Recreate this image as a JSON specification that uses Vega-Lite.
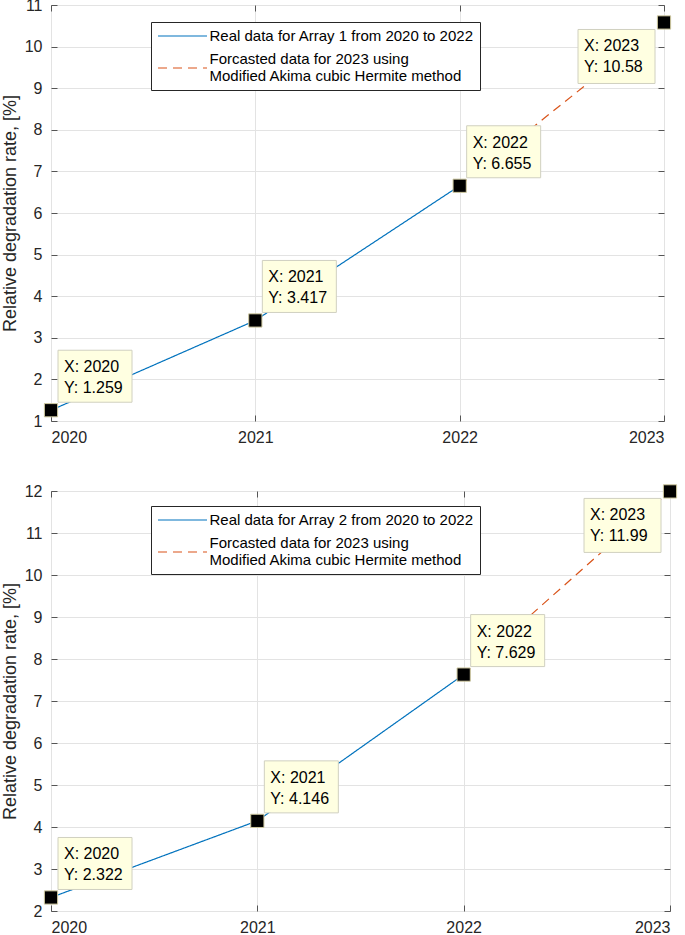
{
  "$schema": "https://vega.github.io/schema/vega-lite/v6.json",
  "background": "white",
  "padding": {"left": 0, "top": -4, "right": 0, "bottom": 0},
  "spacing": 36,
  "config": {
    "font": "Liberation Sans",
    "view": {"stroke": "#555555", "strokeWidth": 1},
    "axis": {
      "labelFont": "Liberation Sans", "labelFontSize": 16, "labelColor": "#262626",
      "titleFont": "Liberation Sans", "titleFontSize": 18, "titleFontWeight": "normal", "titleColor": "#262626",
      "gridColor": "#e3e3e3", "gridOpacity": 1, "gridWidth": 1,
      "domain": false, "tickColor": "#555555", "tickSize": -6, "tickWidth": 1
    },
    "legend": {
      "orient": "none", "legendX": 100, "legendY": 17, "direction": "vertical",
      "strokeColor": "#262626", "fillColor": "white", "padding": 6,
      "symbolType": "M-3.5,0H3.5", "symbolSize": 196, "symbolStrokeWidth": 1.2, "symbolOffset": 17.5,
      "labelFont": "Liberation Sans", "labelFontSize": 15, "labelColor": "#000000",
      "labelOffset": 19, "labelLimit": 500, "rowPadding": 8, "cornerRadius": 0,
      "labelBaseline": {"expr": "indexof(datum.label, ' using ') > 0 ? 'line-bottom' : 'middle'"}
    }
  },
  "datasets": {
    "l1": [
      {"year": 2020, "value": 1.259, "series": "Real data for Array 1 from 2020 to 2022"},
      {"year": 2021, "value": 3.417, "series": "Real data for Array 1 from 2020 to 2022"},
      {"year": 2022, "value": 6.655, "series": "Real data for Array 1 from 2020 to 2022"},
      {"year": 2022, "value": 6.655, "series": "Forcasted data for 2023 using Modified Akima cubic Hermite method"},
      {"year": 2023, "value": 10.58, "series": "Forcasted data for 2023 using Modified Akima cubic Hermite method"}
    ],
    "p1": [
      {"year": 2020, "value": 1.259, "tip": "X: 2020\nY: 1.259"},
      {"year": 2021, "value": 3.417, "tip": "X: 2021\nY: 3.417"},
      {"year": 2022, "value": 6.655, "tip": "X: 2022\nY: 6.655"},
      {"year": 2023, "value": 10.58, "tip": "X: 2023\nY: 10.58"}
    ],
    "l2": [
      {"year": 2020, "value": 2.322, "series": "Real data for Array 2 from 2020 to 2022"},
      {"year": 2021, "value": 4.146, "series": "Real data for Array 2 from 2020 to 2022"},
      {"year": 2022, "value": 7.629, "series": "Real data for Array 2 from 2020 to 2022"},
      {"year": 2022, "value": 7.629, "series": "Forcasted data for 2023 using Modified Akima cubic Hermite method"},
      {"year": 2023, "value": 11.99, "series": "Forcasted data for 2023 using Modified Akima cubic Hermite method"}
    ],
    "p2": [
      {"year": 2020, "value": 2.322, "tip": "X: 2020\nY: 2.322"},
      {"year": 2021, "value": 4.146, "tip": "X: 2021\nY: 4.146"},
      {"year": 2022, "value": 7.629, "tip": "X: 2022\nY: 7.629"},
      {"year": 2023, "value": 11.99, "tip": "X: 2023\nY: 11.99"}
    ]
  },
  "resolve": {"scale": {"color": "independent", "strokeDash": "independent"}, "legend": {"color": "independent", "strokeDash": "independent"}},
  "vconcat": [
    {
      "width": 613, "height": 416,
      "resolve": {"axis": {"x": "independent", "y": "independent"}},
      "layer": [
        {
          "data": {"name": "l1"},
          "mark": {"type": "line", "strokeWidth": 1.2},
          "encoding": {
            "x": {"field": "year", "type": "quantitative", "scale": {"domain": [2020, 2023], "nice": false, "zero": false},
                  "axis": {"values": [2020, 2021, 2022, 2023], "format": "d", "title": null, "labelPadding": 14, "grid": true}},
            "y": {"field": "value", "type": "quantitative", "scale": {"domain": [1, 11], "nice": false, "zero": false},
                  "axis": {"values": [1, 2, 3, 4, 5, 6, 7, 8, 9, 10, 11], "title": "Relative degradation rate, [%]", "labelPadding": 15, "titlePadding": 5, "grid": true}},
            "color": {"field": "series", "type": "nominal",
                      "scale": {"domain": ["Real data for Array 1 from 2020 to 2022", "Forcasted data for 2023 using Modified Akima cubic Hermite method"], "range": ["#0072BD", "#D95319"]},
                      "legend": {"title": null, "labelExpr": "indexof(datum.label, ' using ') > 0 ? [slice(datum.label, 0, indexof(datum.label, ' using ') + 6), slice(datum.label, indexof(datum.label, ' using ') + 7)] : datum.label"}},
            "strokeDash": {"field": "series", "type": "nominal",
                      "scale": {"domain": ["Real data for Array 1 from 2020 to 2022", "Forcasted data for 2023 using Modified Akima cubic Hermite method"], "range": [[1, 0], [9, 6]]},
                      "legend": {"title": null, "labelExpr": "indexof(datum.label, ' using ') > 0 ? [slice(datum.label, 0, indexof(datum.label, ' using ') + 6), slice(datum.label, indexof(datum.label, ' using ') + 7)] : datum.label"}}
          }
        },
        {
          "data": {"name": "p1"},
          "mark": {"type": "point", "shape": "square", "filled": true, "fill": "#000000", "stroke": "#cfc9a0", "strokeWidth": 1, "size": 175, "opacity": 1},
          "encoding": {
            "x": {"field": "year", "type": "quantitative", "axis": {"orient": "top", "values": [2020, 2021, 2022, 2023], "labels": false, "title": null, "grid": false}},
            "y": {"field": "value", "type": "quantitative", "axis": {"orient": "right", "values": [1, 2, 3, 4, 5, 6, 7, 8, 9, 10, 11], "labels": false, "title": null, "grid": false}}
          }
        },
        {
          "data": {"name": "p1"},
          "transform": [{"filter": "datum.year < 2023"}],
          "mark": {"type": "rect", "fill": "#ffffe1", "stroke": "#d0d0c0", "strokeWidth": 1, "xOffset": 7, "x2Offset": 81, "yOffset": -60, "y2Offset": -8},
          "encoding": {
            "x": {"field": "year", "type": "quantitative", "axis": null}, "x2": {"field": "year"},
            "y": {"field": "value", "type": "quantitative", "axis": null}, "y2": {"field": "value"}
          }
        },
        {
          "data": {"name": "p1"},
          "transform": [{"filter": "datum.year == 2023"}],
          "mark": {"type": "rect", "fill": "#ffffe1", "stroke": "#d0d0c0", "strokeWidth": 1, "xOffset": -86, "x2Offset": -9, "yOffset": 7, "y2Offset": 61},
          "encoding": {
            "x": {"field": "year", "type": "quantitative", "axis": null}, "x2": {"field": "year"},
            "y": {"field": "value", "type": "quantitative", "axis": null}, "y2": {"field": "value"}
          }
        },
        {
          "data": {"name": "p1"},
          "transform": [{"filter": "datum.year < 2023"}],
          "mark": {"type": "text", "align": "left", "baseline": "middle", "dx": 13, "dy": -43, "fontSize": 16, "lineBreak": "\n", "lineHeight": 21, "color": "#000000", "font": "Liberation Sans"},
          "encoding": {
            "x": {"field": "year", "type": "quantitative", "axis": null},
            "y": {"field": "value", "type": "quantitative", "axis": null},
            "text": {"field": "tip"}
          }
        },
        {
          "data": {"name": "p1"},
          "transform": [{"filter": "datum.year == 2023"}],
          "mark": {"type": "text", "align": "left", "baseline": "middle", "dx": -80, "dy": 24, "fontSize": 16, "lineBreak": "\n", "lineHeight": 21, "color": "#000000", "font": "Liberation Sans"},
          "encoding": {
            "x": {"field": "year", "type": "quantitative", "axis": null},
            "y": {"field": "value", "type": "quantitative", "axis": null},
            "text": {"field": "tip"}
          }
        }
      ]
    },
    {
      "width": 619, "height": 420,
      "resolve": {"axis": {"x": "independent", "y": "independent"}},
      "layer": [
        {
          "data": {"name": "l2"},
          "mark": {"type": "line", "strokeWidth": 1.2},
          "encoding": {
            "x": {"field": "year", "type": "quantitative", "scale": {"domain": [2020, 2023], "nice": false, "zero": false},
                  "axis": {"values": [2020, 2021, 2022, 2023], "format": "d", "title": null, "labelPadding": 14, "grid": true}},
            "y": {"field": "value", "type": "quantitative", "scale": {"domain": [2, 12], "nice": false, "zero": false},
                  "axis": {"values": [2, 3, 4, 5, 6, 7, 8, 9, 10, 11, 12], "title": "Relative degradation rate, [%]", "labelPadding": 15, "titlePadding": 5, "grid": true}},
            "color": {"field": "series", "type": "nominal",
                      "scale": {"domain": ["Real data for Array 2 from 2020 to 2022", "Forcasted data for 2023 using Modified Akima cubic Hermite method"], "range": ["#0072BD", "#D95319"]},
                      "legend": {"title": null, "legendY": 15, "labelExpr": "indexof(datum.label, ' using ') > 0 ? [slice(datum.label, 0, indexof(datum.label, ' using ') + 6), slice(datum.label, indexof(datum.label, ' using ') + 7)] : datum.label"}},
            "strokeDash": {"field": "series", "type": "nominal",
                      "scale": {"domain": ["Real data for Array 2 from 2020 to 2022", "Forcasted data for 2023 using Modified Akima cubic Hermite method"], "range": [[1, 0], [9, 6]]},
                      "legend": {"title": null, "legendY": 15, "labelExpr": "indexof(datum.label, ' using ') > 0 ? [slice(datum.label, 0, indexof(datum.label, ' using ') + 6), slice(datum.label, indexof(datum.label, ' using ') + 7)] : datum.label"}}
          }
        },
        {
          "data": {"name": "p2"},
          "mark": {"type": "point", "shape": "square", "filled": true, "fill": "#000000", "stroke": "#cfc9a0", "strokeWidth": 1, "size": 175, "opacity": 1},
          "encoding": {
            "x": {"field": "year", "type": "quantitative", "axis": {"orient": "top", "values": [2020, 2021, 2022, 2023], "labels": false, "title": null, "grid": false}},
            "y": {"field": "value", "type": "quantitative", "axis": {"orient": "right", "values": [2, 3, 4, 5, 6, 7, 8, 9, 10, 11, 12], "labels": false, "title": null, "grid": false}}
          }
        },
        {
          "data": {"name": "p2"},
          "transform": [{"filter": "datum.year < 2023"}],
          "mark": {"type": "rect", "fill": "#ffffe1", "stroke": "#d0d0c0", "strokeWidth": 1, "xOffset": 7, "x2Offset": 81, "yOffset": -60, "y2Offset": -8},
          "encoding": {
            "x": {"field": "year", "type": "quantitative", "axis": null}, "x2": {"field": "year"},
            "y": {"field": "value", "type": "quantitative", "axis": null}, "y2": {"field": "value"}
          }
        },
        {
          "data": {"name": "p2"},
          "transform": [{"filter": "datum.year == 2023"}],
          "mark": {"type": "rect", "fill": "#ffffe1", "stroke": "#d0d0c0", "strokeWidth": 1, "xOffset": -86, "x2Offset": -9, "yOffset": 7, "y2Offset": 61},
          "encoding": {
            "x": {"field": "year", "type": "quantitative", "axis": null}, "x2": {"field": "year"},
            "y": {"field": "value", "type": "quantitative", "axis": null}, "y2": {"field": "value"}
          }
        },
        {
          "data": {"name": "p2"},
          "transform": [{"filter": "datum.year < 2023"}],
          "mark": {"type": "text", "align": "left", "baseline": "middle", "dx": 13, "dy": -43, "fontSize": 16, "lineBreak": "\n", "lineHeight": 21, "color": "#000000", "font": "Liberation Sans"},
          "encoding": {
            "x": {"field": "year", "type": "quantitative", "axis": null},
            "y": {"field": "value", "type": "quantitative", "axis": null},
            "text": {"field": "tip"}
          }
        },
        {
          "data": {"name": "p2"},
          "transform": [{"filter": "datum.year == 2023"}],
          "mark": {"type": "text", "align": "left", "baseline": "middle", "dx": -80, "dy": 24, "fontSize": 16, "lineBreak": "\n", "lineHeight": 21, "color": "#000000", "font": "Liberation Sans"},
          "encoding": {
            "x": {"field": "year", "type": "quantitative", "axis": null},
            "y": {"field": "value", "type": "quantitative", "axis": null},
            "text": {"field": "tip"}
          }
        }
      ]
    }
  ]
}
